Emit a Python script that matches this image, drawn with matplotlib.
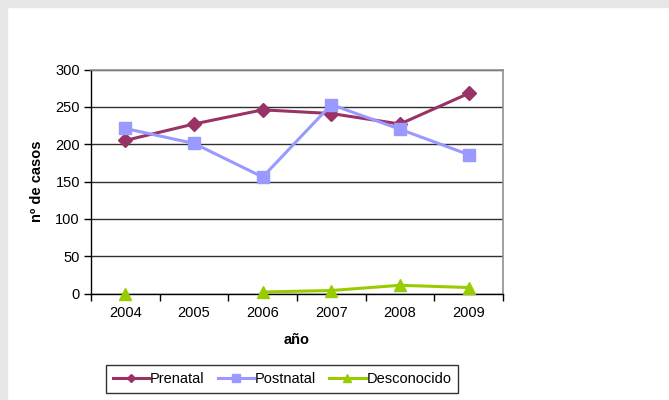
import numpy as np
import matplotlib.pyplot as plt
from matplotlib.patches import Rectangle

plt.rcParams['font.family'] = ['Liberation Sans', 'DejaVu Sans']

years = ['2004', '2005', '2006', '2007', '2008', '2009']
prenatal = [205, 227, 246, 241, 227, 268]
postnatal = [221, 201, 156, 253, 220, 186]
desconocido = [0, np.nan, 2, 4, 11, 8]

fig = plt.figure(figsize=(6.69, 4.0), dpi=100)
fig.patch.set_facecolor('white')

# grey frame strips on the top and left edges
fig.patches.append(Rectangle((0, 1 - 7 / 400), 1, 7 / 400, transform=fig.transFigure,
                             color='#e6e6e6', zorder=0))
fig.patches.append(Rectangle((0, 0), 7 / 669, 1, transform=fig.transFigure,
                             color='#e6e6e6', zorder=0))

ax = fig.add_axes([91 / 669, 1 - 293.5 / 400, 412 / 669, 224 / 400])
x = np.arange(len(years))

ax.plot(x, prenatal, color='#993366', lw=2.2, marker='D', ms=7, label='Prenatal',
        clip_on=False, zorder=3)
ax.plot(x, postnatal, color='#9999ff', lw=2.2, marker='s', ms=8, label='Postnatal',
        clip_on=False, zorder=3)
ax.plot(x, desconocido, color='#99cc00', lw=2.2, marker='^', ms=9, label='Desconocido',
        clip_on=False, zorder=3)

ax.set_xlim(-0.5, len(years) - 0.5)
ax.set_ylim(0, 300)
ax.set_yticks(range(0, 301, 50))
ax.set_xticks(x)
ax.set_xticklabels(years)
ax.set_xticks(np.arange(-0.5, len(years), 1), minor=True)
ax.tick_params(axis='x', which='major', length=0, pad=9, labelsize=10.5)
ax.tick_params(axis='x', which='minor', length=5, width=1, direction='out')
ax.tick_params(axis='y', length=5, width=1, direction='out', labelsize=10.5, pad=3)

ax.yaxis.grid(True, color='#303030', lw=1)
ax.set_axisbelow(True)
for side in ['top', 'right']:
    ax.spines[side].set_color('#909090')
    ax.spines[side].set_linewidth(1.2)
for side in ['left', 'bottom']:
    ax.spines[side].set_color('black')
    ax.spines[side].set_linewidth(1)

ax.set_xlabel('año', fontsize=10.5, fontweight='bold', labelpad=9)
ax.set_ylabel('nº de casos', fontsize=10.5, fontweight='bold', labelpad=8)

leg = fig.legend(loc='center', bbox_to_anchor=(282 / 669, 1 - 379 / 400), ncol=3,
                 fontsize=10.5, frameon=True, fancybox=False, handlelength=2.5,
                 columnspacing=0.9, handletextpad=0.05, borderpad=0.45,
                 borderaxespad=0, markerscale=0.65)
leg.get_frame().set_edgecolor('black')
leg.get_frame().set_linewidth(1)

fig.savefig('out.png', dpi=100)
